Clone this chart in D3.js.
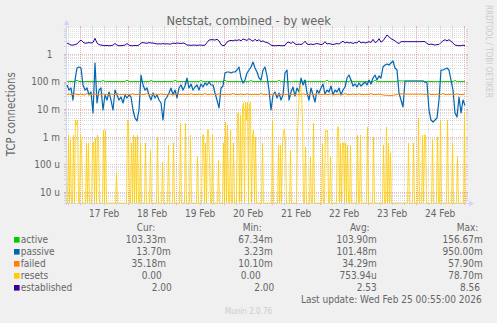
<!DOCTYPE html>
<html>
<head>
<meta charset="utf-8">
<script src="https://cdn.jsdelivr.net/npm/d3@7"></script>
<style>
  html, body { margin: 0; padding: 0; background: #f0f0f0; }
  svg { display: block; }
  text { font-family: 'DejaVu Sans Condensed', 'DejaVu Sans', sans-serif; font-stretch: semi-condensed; fill: #666; }
</style>
</head>
<body>
<svg id="chart" width="497" height="323"></svg>
<script>
// ---- data -----------------------------------------------------------
const seriesNames  = ["active", "passive", "failed", "resets", "established"];
const seriesColors = ["#00cc00", "#0066b3", "#ff8000", "#ffcc00", "#330099"];

// hourly samples (200 h, ending Wed Feb 25 00:55)
const active = [
  0.100,0.100,0.101,0.100,0.100,0.112,0.101,0.100,0.100,0.100,
  0.101,0.100,0.100,0.100,0.100,0.101,0.100,0.100,0.110,0.100,
  0.100,0.101,0.100,0.100,0.100,0.100,0.100,0.100,0.100,0.101,
  0.112,0.100,0.100,0.100,0.101,0.100,0.100,0.100,0.100,0.100,
  0.100,0.100,0.110,0.101,0.100,0.100,0.100,0.100,0.100,0.101,
  0.100,0.100,0.100,0.100,0.111,0.100,0.100,0.101,0.100,0.100,
  0.100,0.100,0.100,0.100,0.100,0.101,0.100,0.110,0.100,0.100,
  0.100,0.100,0.101,0.100,0.100,0.100,0.100,0.100,0.100,0.112,
  0.100,0.101,0.100,0.100,0.100,0.100,0.100,0.100,0.100,0.100,
  0.100,0.100,0.110,0.100,0.100,0.101,0.100,0.100,0.100,0.100,
  0.100,0.101,0.100,0.100,0.100,0.100,0.111,0.100,0.100,0.100,
  0.100,0.100,0.100,0.100,0.101,0.100,0.100,0.100,0.100,0.110,
  0.100,0.100,0.100,0.101,0.100,0.100,0.100,0.100,0.100,0.100,
  0.112,0.100,0.100,0.100,0.100,0.101,0.100,0.100,0.100,0.100,
  0.100,0.100,0.110,0.100,0.100,0.100,0.101,0.100,0.100,0.100,
  0.100,0.100,0.100,0.100,0.111,0.100,0.100,0.100,0.100,0.100,
  0.101,0.100,0.100,0.100,0.100,0.104,0.106,0.106,0.105,0.104,
  0.104,0.104,0.104,0.104,0.104,0.104,0.104,0.104,0.104,0.100,
  0.100,0.100,0.101,0.100,0.100,0.100,0.100,0.100,0.100,0.100,
  0.101,0.100,0.100,0.100,0.110,0.100,0.100,0.100,0.100,0.1033
];

const passive = [
  0.0753,0.0496,0.0586,0.0215,0.114,0.311,0.338,0.311,0.0753,0.0496,
  0.0586,0.0327,0.042,0.00728,0.472,0.0168,0.0496,0.0586,0.00935,0.0327,
  0.0215,0.042,0.0215,0.00935,0.0496,0.0327,0.0215,0.0277,0.0168,0.0327,
  0.0255,0.0327,0.0277,0.00935,0.0048,0.00374,0.00935,0.173,0.0753,0.0496,
  0.0586,0.0327,0.0215,0.0386,0.0255,0.0327,0.0215,0.0168,0.00406,0.0215,
  0.0277,0.0386,0.0586,0.0327,0.0496,0.0255,0.0586,0.0753,0.0496,0.0693,
  0.135,0.0586,0.0818,0.0496,0.0637,0.0753,0.0496,0.0818,0.0637,0.0889,
  0.0753,0.0967,0.0753,0.0753,0.0386,0.0215,0.0111,0.0586,0.0693,0.205,
  0.223,0.223,0.205,0.223,0.223,0.263,0.338,0.135,0.0889,0.114,
  0.205,0.263,0.338,0.513,0.311,0.223,0.135,0.114,0.263,0.338,
  0.160,0.0496,0.00935,0.0327,0.042,0.0255,0.0386,0.0215,0.0327,0.205,
  0.263,0.0215,0.042,0.0637,0.0301,0.0586,0.042,0.135,0.0753,0.114,
  0.0386,0.0215,0.0586,0.0327,0.0182,0.0496,0.0386,0.0586,0.0818,0.0355,
  0.0496,0.042,0.0693,0.0327,0.0496,0.042,0.0586,0.0327,0.0496,0.0637,
  0.135,0.173,0.114,0.0693,0.0818,0.0637,0.0889,0.0693,0.0818,0.0967,
  0.0753,0.114,0.0818,0.135,0.173,0.114,0.160,0.135,0.338,0.399,
  0.434,0.399,0.472,0.558,0.311,0.263,0.0386,0.0215,0.012,0.105,
  0.105,0.105,0.105,0.105,0.105,0.105,0.105,0.105,0.105,0.0967,
  0.0889,0.00935,0.00406,0.00344,0.00406,0.0048,0.0215,0.263,0.263,0.286,
  0.311,0.263,0.114,0.0496,0.00728,0.00522,0.0277,0.00728,0.0215,0.0137
];

const failed = [
  0.034,0.035,0.034,0.034,0.036,0.034,0.034,0.035,0.034,0.033,
  0.037,0.034,0.034,0.034,0.035,0.034,0.033,0.034,0.036,0.034,
  0.034,0.034,0.035,0.034,0.034,0.037,0.034,0.034,0.034,0.035,
  0.034,0.034,0.034,0.036,0.034,0.034,0.035,0.034,0.034,0.034,
  0.037,0.034,0.034,0.034,0.035,0.034,0.034,0.036,0.034,0.034,
  0.034,0.035,0.034,0.034,0.034,0.037,0.034,0.034,0.035,0.034,
  0.034,0.034,0.036,0.034,0.034,0.034,0.035,0.034,0.034,0.037,
  0.034,0.034,0.035,0.034,0.034,0.034,0.036,0.034,0.034,0.034,
  0.035,0.034,0.034,0.037,0.034,0.034,0.034,0.035,0.034,0.034,
  0.036,0.034,0.034,0.034,0.035,0.034,0.034,0.037,0.034,0.034,
  0.034,0.035,0.034,0.034,0.036,0.034,0.034,0.034,0.035,0.034,
  0.034,0.037,0.034,0.034,0.034,0.035,0.034,0.034,0.036,0.034,
  0.034,0.034,0.035,0.034,0.034,0.037,0.034,0.034,0.034,0.035,
  0.034,0.034,0.036,0.034,0.034,0.034,0.035,0.034,0.034,0.037,
  0.034,0.034,0.034,0.035,0.034,0.034,0.036,0.034,0.034,0.034,
  0.035,0.034,0.037,0.034,0.034,0.034,0.035,0.034,0.033,0.032,
  0.032,0.031,0.031,0.032,0.033,0.034,0.036,0.036,0.035,0.035,
  0.035,0.035,0.035,0.035,0.035,0.035,0.035,0.035,0.035,0.034,
  0.034,0.036,0.034,0.034,0.034,0.035,0.034,0.034,0.037,0.034,
  0.034,0.034,0.035,0.034,0.034,0.036,0.034,0.034,0.034,0.0352
];

// half-hourly samples (400 x 30 min)
const resets = [
  0,0,0.00116,0,0.00077,0,0,0.00116,0,0.00406, 0.00267,0.00406,0,0,0.00116,0.0005,0,0,0,0,
  0.0006,0,0.0006,0,0,0,0.0005,0.00065,0,0.00091, 0,0.00116,0.00077,0,0,0,0,0.00176,0,0.00176,
  0,0,0,0,0,0,0,0,0,0, 0.00005,0,0,0,0,0,0,0,0,0,
  0,0.00406,0.00344,0,0,0.0006,0,0.00116,0,0.00099, 0,0.00116,0,0,0.0006,0,0,0,0,0.0006,
  0,0,0,0,0.00033,0,0,0,0,0, 0,0.00099,0,0,0,0,0.00012,0,0,0,
  0,0,0.0005,0,0,0,0,0.0006,0,0, 0,0,0,0,0.00316,0,0,0,0,0.00316,
  0,0,0,0,0.00116,0,0,0,0,0, 0,0.00019,0,0,0,0,0.00116,0.00116,0,0.0006,
  0,0.00176,0.00176,0.00012,0,0,0.00116,0,0,0, 0,0,0.00014,0,0,0,0,0.0006,0,0.00344,
  0,0.00267,0,0,0.00176,0,0,0.0006,0,0, 0,0.0062,0.0079,0,0.0062,0,0.012,0.0168,0,0.0182,
  0.00406,0.0182,0,0.0142,0.0182,0,0.00099,0.00176,0,0.00099, 0,0,0,0,0,0,0.0006,0,0,0,
  0,0,0,0,0,0,0.00406,0,0,0, 0,0,0.0005,0,0.0005,0,0.0005,0.00176,0.00176,0.00065,
  0,0,0,0,0.00033,0,0,0,0,0, 0,0.00176,0.00935,0.0496,0.0787,0.0327,0.00406,0,0,0.00043,
  0,0,0,0,0.00019,0,0,0.00316,0,0, 0,0,0,0,0,0,0.0006,0,0,0.00176,
  0.0015,0.00176,0,0,0.00019,0,0,0,0,0, 0,0.00226,0.00226,0,0.0006,0,0.0006,0.0006,0,0.0006,
  0,0.0005,0,0,0.0005,0,0,0,0,0, 0,0.00116,0,0,0.00116,0,0,0,0,0,
  0,0.00226,0,0,0,0,0,0.00099,0,0, 0,0,0,0,0,0,0,0.0005,0,0,
  0.00226,0,0.0006,0,0.00026,0,0,0,0,0, 0,0,0,0,0,0,0,0,0,0,
  0,0,0.0006,0,0,0,0,0.0006,0,0, 0,0,0.0048,0,0,0,0.00116,0,0.00116,0.00116,
  0,0,0,0,0,0,0.00077,0,0,0, 0,0.00099,0,0,0.00406,0,0,0,0,0,
  0,0.00406,0,0,0,0,0.0006,0,0,0, 0,0.00019,0,0,0,0,0,0,0.00728,0
];

const established = [
  2.5,2.3,2.1,2.1,2.2,2.3,2.8,3.2,2.7,2.45,
  2.5,2.6,2.5,2.6,3.7,2.5,2.2,2.1,2.05,2.0,
  2.05,2.0,2.0,2.1,2.4,2.1,2.0,2.0,2.05,2.1,
  2.4,2.1,2.0,2.0,2.05,2.0,2.1,2.5,2.6,2.5,
  2.45,2.6,2.5,2.5,2.4,2.3,2.35,2.3,2.4,2.3,
  2.35,2.3,2.3,2.5,2.4,2.5,2.45,2.4,2.5,2.4,
  2.1,2.1,2.05,2.1,2.1,2.05,2.1,2.1,2.05,2.1,
  2.6,3.2,3.3,3.3,3.2,3.4,3.0,2.2,2.0,2.1,
  2.7,3.0,3.1,3.0,3.2,3.1,3.3,3.0,3.5,3.3,
  3.1,3.6,3.2,2.9,3.4,3.0,3.3,2.8,3.0,2.7,
  2.6,2.4,2.1,2.0,2.0,2.0,2.05,2.0,2.0,2.05,
  2.6,2.7,2.4,2.8,2.3,2.2,2.3,2.2,2.4,2.9,
  2.3,2.2,2.3,2.2,2.3,2.4,2.3,2.2,2.3,2.8,
  2.3,2.4,2.3,2.2,2.3,2.4,2.3,2.6,2.9,2.5,
  2.7,2.5,2.6,2.4,2.6,2.5,3.0,2.5,2.7,2.5,
  2.6,2.8,2.6,3.4,2.6,2.8,3.6,2.7,3.0,3.8,
  4.9,4.2,3.6,3.3,3.0,2.6,2.4,2.8,2.8,2.8,
  2.8,2.8,2.8,2.8,2.8,2.8,2.8,2.8,2.85,2.8,
  2.4,2.2,2.3,2.2,2.1,2.2,2.2,2.6,3.0,3.3,
  3.0,3.3,2.9,2.5,2.1,2.05,2.0,2.0,2.1,2.0
];

const yTickValues = [1e-5, 1e-4, 1e-3, 1e-2, 1e-1, 1];
const yTickLabels = ["10 u", "100 u", "1 m", "10 m", "100 m", "1\u2007\u2009"];

const legendHeaders = ["Cur:", "Min:", "Avg:", "Max:"];
const curText = ["103.33m", "13.70m", "35.18m", "0.00", "2.00"];
const minText = ["67.34m", "3.23m", "10.10m", "0.00", "2.00"];
const avgText = ["103.90m", "101.48m", "34.29m", "753.94u", "2.53"];
const maxText = ["156.67m", "950.00m", "57.90m", "78.70m", "8.56"];

const titleText  = "Netstat, combined - by week";
const yLabelText = "TCP connections";
const updateText = "Last update: Wed Feb 25 00:55:00 2026";
const sideText   = "RRDTOOL / TOBI OETIKER";
const footerText = "Munin 2.0.76";

// ---- time axis --------------------------------------------------------
const HOUR = 3600e3, HALF_HOUR = 1800e3;
const endTime   = Date.UTC(2026, 1, 25, 0, 55);
const startTime = endTime - 400 * HALF_HOUR;
const toPoints = (arr, step) => arr.map((v, i) => ({ t: new Date(startTime + (i + 0.5) * step), v }));

// ---- layout -----------------------------------------------------------
const W = 497, H = 323;
const L = 66, R = 466, T = 28, B = 203;
const yMin = 4e-6, yMax = 8.75;

const svg = d3.select("#chart");
const x = d3.scaleUtc().domain([new Date(startTime), new Date(endTime)]).range([L, R]);
const y = d3.scaleLog().domain([yMin, yMax]).range([B, T]).clamp(true);

svg.append("rect").attr("width", W).attr("height", H).attr("fill", "#f0f0f0");
svg.append("rect").attr("x", L).attr("y", T).attr("width", R - L).attr("height", B - T).attr("fill", "#ffffff");

const minorCol = "rgba(143,143,143,0.3)";
const majorCol = "rgba(222,79,79,0.42)";
const gridG = svg.append("g").attr("shape-rendering", "crispEdges");

// horizontal grid: 2..9 within each decade, decades in red
const hLines = [];
for (let k = -6; k <= 1; k++) {
  for (let m = 1; m <= 9; m++) {
    const v = m * Math.pow(10, k);
    if (v >= yMin && v <= yMax) hLines.push({ v, major: m === 1 });
  }
}
hLines.forEach(d => {
  const yy = Math.round(y(d.v)) + 0.5;
  const col = d.major ? majorCol : minorCol;
  gridG.append("line").attr("x1", L).attr("x2", R).attr("y1", yy).attr("y2", yy)
    .attr("stroke", col).attr("stroke-dasharray", "1,1");
  gridG.append("line").attr("x1", L - 2).attr("x2", L).attr("y1", yy).attr("y2", yy).attr("stroke", col);
  gridG.append("line").attr("x1", R).attr("x2", R + 2).attr("y1", yy).attr("y2", yy).attr("stroke", col);
});

// vertical grid: every 6 h, midnights in red
d3.utcHour.every(6).range(new Date(startTime), new Date(endTime)).forEach(t => {
  const major = t.getUTCHours() === 0;
  const xx = Math.round(x(t)) + 0.5;
  const col = major ? majorCol : minorCol;
  gridG.append("line").attr("x1", xx).attr("x2", xx).attr("y1", T).attr("y2", B)
    .attr("stroke", col).attr("stroke-dasharray", "1,1");
  gridG.append("line").attr("x1", xx).attr("x2", xx).attr("y1", B).attr("y2", B + 2).attr("stroke", col);
  gridG.append("line").attr("x1", xx).attr("x2", xx).attr("y1", T - 2).attr("y2", T).attr("stroke", col);
});

// axes with arrows
const axisCol = "#cfd6f8";
gridG.append("line").attr("x1", L - 2).attr("x2", R + 4).attr("y1", B + 0.5).attr("y2", B + 0.5).attr("stroke", axisCol);
gridG.append("line").attr("x1", L + 0.5).attr("x2", L + 0.5).attr("y1", B + 2).attr("y2", T - 4).attr("stroke", axisCol);
svg.append("path").attr("d", `M${R + 3},${B - 2.5}L${R + 8},${B + 0.5}L${R + 3},${B + 3.5}Z`).attr("fill", axisCol);
svg.append("path").attr("d", `M${L - 2.5},${T - 3}L${L + 0.5},${T - 8}L${L + 3.5},${T - 3}Z`).attr("fill", axisCol);

// tick labels
const tickG = svg.append("g").attr("font-size", 10);
yTickValues.forEach((v, i) => {
  tickG.append("text").attr("x", 60).attr("y", y(v) + 3.8)
    .attr("text-anchor", "end").attr("xml:space", "preserve").style("white-space", "pre")
    .text(yTickLabels[i]);
});
d3.utcDay.range(new Date(startTime), new Date(endTime)).forEach(t => {
  const noon = new Date(t.getTime() + 12 * HOUR);
  if (noon.getTime() > endTime) return;
  tickG.append("text").attr("x", x(noon)).attr("y", 217)
    .attr("text-anchor", "middle").text(d3.utcFormat("%-d %b")(t));
});

// ---- data lines -------------------------------------------------------
svg.append("clipPath").attr("id", "plotClip")
  .append("rect").attr("x", L).attr("y", T - 1).attr("width", R - L + 1).attr("height", B - T + 2);
const plot = svg.append("g").attr("clip-path", "url(#plotClip)");
const line = d3.line().x(d => x(d.t)).y(d => y(Math.max(d.v, yMin)));

const series = [
  toPoints(active, HOUR),
  toPoints(passive, HOUR),
  toPoints(failed, HOUR),
  toPoints(resets, HALF_HOUR),
  toPoints(established, HOUR)
];
const widths = [1, 1.2, 1, 0.8, 1];
series.forEach((pts, i) => {
  plot.append("path").datum(pts).attr("d", line)
    .attr("fill", "none").attr("stroke", seriesColors[i]).attr("stroke-width", widths[i])
    .attr("stroke-linejoin", i === 3 ? "bevel" : "round");
});

// ---- titles -----------------------------------------------------------
svg.append("text").attr("x", 248.7).attr("y", 25.3).attr("text-anchor", "middle")
  .attr("font-size", 12.7).text(titleText);
svg.append("text").attr("transform", "translate(15,114.2) rotate(-90)").attr("text-anchor", "middle")
  .attr("font-size", 11.4).text(yLabelText);
svg.append("text").attr("transform", "translate(486,5) rotate(90)").attr("text-anchor", "start")
  .attr("font-size", 8).style("fill", "#cccccc").text(sideText);

// ---- legend -----------------------------------------------------------
const lg = svg.append("g").attr("font-size", 10);
const headerX = [136.7, 242.7, 350, 456.7];
legendHeaders.forEach((h, i) => lg.append("text").attr("x", headerX[i]).attr("y", 231).text(h));

const rowBase = [243.3, 255.3, 267.3, 279.3, 291.3];
const curEnd = [166, 170.7, 166, 161.7, 171.7];
const minEnd = [272.7, 272.7, 272.7, 260.7, 274.3];
const avgEnd = [376.7, 376.7, 376.7, 376.7, 376.7];
const maxEnd = [482.7, 482.7, 482.7, 482.7, 480];
seriesNames.forEach((name, i) => {
  const b = rowBase[i];
  lg.append("rect").attr("x", 14).attr("y", b - 6.3).attr("width", 5.6).attr("height", 5.6).attr("fill", seriesColors[i]);
  lg.append("text").attr("x", 20.7).attr("y", b).text(name);
  lg.append("text").attr("x", curEnd[i]).attr("y", b).attr("text-anchor", "end").text(curText[i]);
  lg.append("text").attr("x", minEnd[i]).attr("y", b).attr("text-anchor", "end").text(minText[i]);
  lg.append("text").attr("x", avgEnd[i]).attr("y", b).attr("text-anchor", "end").text(avgText[i]);
  lg.append("text").attr("x", maxEnd[i]).attr("y", b).attr("text-anchor", "end").text(maxText[i]);
});
lg.append("text").attr("x", 481.7).attr("y", 302.7).attr("text-anchor", "end").text(updateText);
svg.append("text").attr("x", 225).attr("y", 314).attr("font-size", 8).style("fill", "#cccccc").text(footerText);
</script>
</body>
</html>
